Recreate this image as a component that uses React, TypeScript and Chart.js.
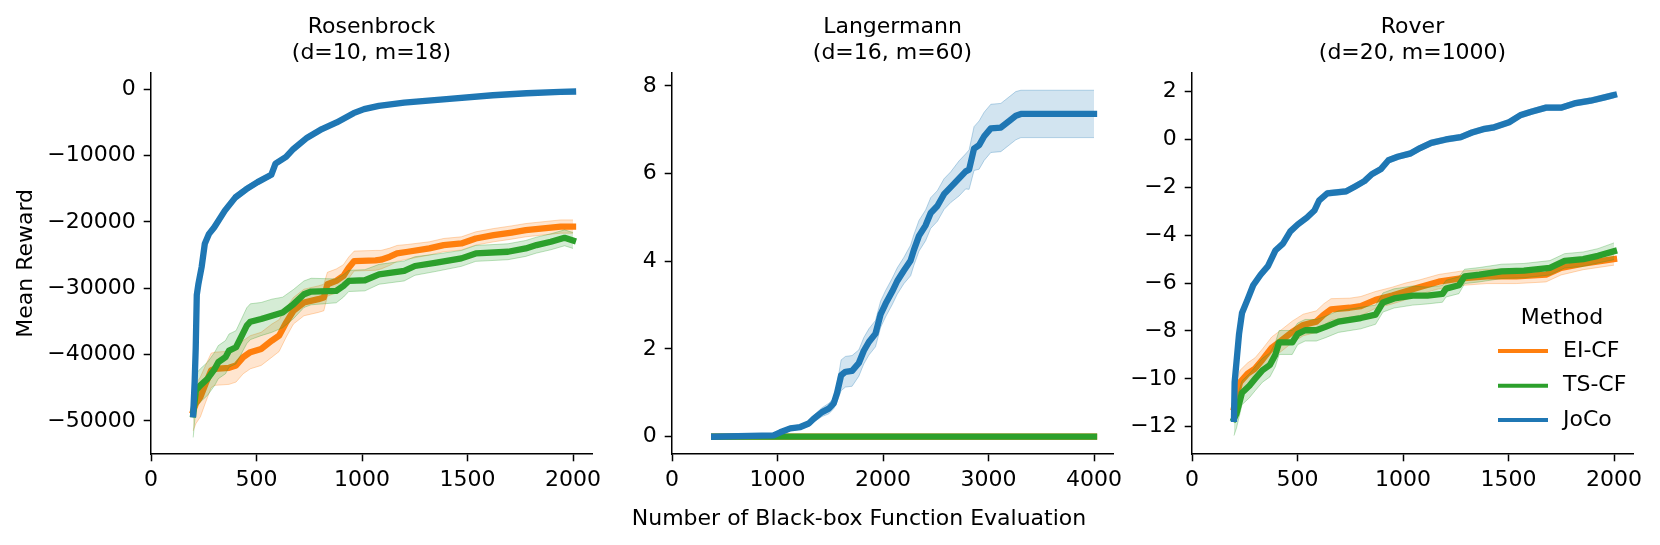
import React, { useEffect, useRef } from 'react';
import { Chart, registerables } from 'chart.js';

Chart.register(...registerables);

const FONT_FAMILY = 'DejaVu Sans';
const FONT_SIZE = 22;

// ---------- labels ----------
const METHODS = ['EI-CF', 'TS-CF', 'JoCo'];
const COLORS = ['#ff7f0e', '#2ca02c', '#1f77b4'];
const COLORS_RGB = ['255,127,14', '44,160,44', '31,119,180'];
const TITLES = [
  ['Rosenbrock', '(d=10, m=18)'],
  ['Langermann', '(d=16, m=60)'],
  ['Rover', '(d=20, m=1000)'],
];
const Y_LABEL = 'Mean Reward';
const X_LABEL = 'Number of Black-box Function Evaluation';
const LEGEND_TITLE = 'Method';

// ---------- axes ----------
const ROS_X_TICKS = [0, 500, 1000, 1500, 2000];
const ROS_Y_TICKS = [-50000, -40000, -30000, -20000, -10000, 0];
const ROS_X_RANGE = [0, 2090];
const ROS_Y_RANGE = [-55000, 2500];

const LAN_X_TICKS = [0, 1000, 2000, 3000, 4000];
const LAN_Y_TICKS = [0, 2, 4, 6, 8];
const LAN_X_RANGE = [0, 4180];
const LAN_Y_RANGE = [-0.395, 8.3];

const ROV_X_TICKS = [0, 500, 1000, 1500, 2000];
const ROV_Y_TICKS = [-12, -10, -8, -6, -4, -2, 0, 2];
const ROV_X_RANGE = [0, 2090];
const ROV_Y_RANGE = [-13.14, 2.79];

// ---------- Rosenbrock ----------
const ROS_EI_X = [200, 213, 234, 259, 285, 302, 370, 403, 437, 471, 522, 573, 607, 641, 675, 725, 793, 819, 836, 878, 912, 937, 963, 1064, 1090, 1132, 1166, 1217, 1319, 1387, 1471, 1539, 1624, 1709, 1776, 1895, 1942, 2000];
const ROS_EI_Y = [-48500, -47400, -46400, -44400, -42400, -42150, -42000, -41650, -40400, -39650, -39150, -37900, -37150, -35150, -33400, -32150, -31650, -31400, -29400, -28900, -28150, -26900, -25900, -25800, -25700, -25250, -24750, -24500, -24000, -23500, -23250, -22500, -22000, -21600, -21250, -20850, -20700, -20700];
const ROS_EI_HW = [3000, 3000, 3000, 2800, 2600, 2500, 2500, 2500, 2500, 2500, 2500, 2500, 2400, 2200, 2000, 2000, 2000, 2000, 1800, 1800, 1700, 1600, 1500, 1500, 1400, 1300, 1200, 1100, 1000, 1000, 1000, 1000, 1000, 1000, 1000, 1000, 1000, 1000];

const ROS_TS_X = [200, 213, 234, 268, 302, 319, 353, 370, 403, 454, 471, 522, 573, 624, 675, 725, 759, 878, 912, 937, 1014, 1081, 1200, 1251, 1353, 1471, 1539, 1692, 1776, 1827, 1895, 1960, 2000];
const ROS_TS_Y = [-49000, -45400, -44650, -43650, -42150, -41150, -40400, -39400, -38900, -35650, -35050, -34650, -34150, -33650, -32400, -30900, -30500, -30400, -29650, -28900, -28800, -27900, -27400, -26650, -26150, -25500, -24750, -24500, -24000, -23500, -23000, -22400, -22800];
const ROS_TS_HW = [3500, 2500, 2500, 2500, 2500, 2500, 2500, 2500, 2500, 2700, 2700, 2500, 2500, 2300, 2200, 2000, 2000, 1800, 1700, 1600, 1600, 1500, 1500, 1400, 1300, 1200, 1200, 1200, 1200, 1200, 1200, 1200, 1200];

const ROS_JOCO_X = [200, 207, 212, 217, 225, 240, 255, 275, 300, 350, 400, 450, 505, 570, 590, 640, 675, 740, 810, 880, 960, 1010, 1080, 1200, 1400, 1620, 1780, 1940, 2000];
const ROS_JOCO_Y = [-49000, -44000, -39000, -31000, -29300, -26800, -23300, -21800, -20800, -18300, -16300, -15100, -14000, -12900, -11200, -10200, -9000, -7300, -6000, -5000, -3600, -3000, -2500, -2000, -1500, -900, -600, -400, -350];
const ROS_JOCO_HW = [600, 600, 600, 600, 600, 600, 600, 500, 500, 500, 500, 500, 400, 400, 400, 400, 400, 400, 300, 300, 300, 300, 250, 200, 200, 200, 200, 200, 200];

// ---------- Langermann ----------
const LAN_EI_X = [400, 4000];
const LAN_EI_Y = [0, 0];
const LAN_EI_HW = [0, 0];

const LAN_TS_X = [400, 4000];
const LAN_TS_Y = [0, 0];
const LAN_TS_HW = [0, 0];

const LAN_JOCO_X = [400, 963, 1026, 1121, 1216, 1296, 1343, 1422, 1486, 1533, 1565, 1603, 1644, 1707, 1771, 1818, 1866, 1929, 1977, 2024, 2087, 2135, 2198, 2262, 2293, 2341, 2404, 2452, 2515, 2578, 2642, 2721, 2784, 2816, 2863, 2911, 2959, 3022, 3117, 3196, 3259, 3307, 4000];
const LAN_JOCO_Y = [0, 0.03, 0.1, 0.19, 0.22, 0.3, 0.41, 0.56, 0.64, 0.76, 1.0, 1.4, 1.48, 1.5, 1.68, 1.96, 2.16, 2.35, 2.79, 3.03, 3.31, 3.55, 3.79, 4.02, 4.26, 4.58, 4.82, 5.1, 5.26, 5.53, 5.69, 5.89, 6.05, 6.09, 6.57, 6.65, 6.85, 7.03, 7.05, 7.2, 7.32, 7.36, 7.36];
const LAN_JOCO_HW = [0, 0.02, 0.04, 0.05, 0.05, 0.06, 0.08, 0.1, 0.12, 0.12, 0.2, 0.35, 0.35, 0.35, 0.3, 0.3, 0.3, 0.3, 0.3, 0.3, 0.3, 0.3, 0.3, 0.35, 0.35, 0.35, 0.35, 0.35, 0.35, 0.35, 0.35, 0.4, 0.4, 0.45, 0.5, 0.55, 0.55, 0.55, 0.55, 0.55, 0.55, 0.54, 0.54];

// ---------- Rover ----------
const ROV_EI_X = [199, 211, 228, 264, 299, 334, 378, 422, 475, 527, 589, 624, 659, 747, 800, 870, 949, 1011, 1081, 1169, 1274, 1397, 1538, 1678, 1749, 1854, 2000];
const ROV_EI_Y = [-11.2, -10.7, -10.14, -9.78, -9.57, -9.2, -8.7, -8.41, -8.04, -7.75, -7.61, -7.32, -7.1, -7.03, -6.96, -6.7, -6.52, -6.35, -6.16, -5.94, -5.8, -5.72, -5.72, -5.65, -5.36, -5.19, -5.0];
const ROV_EI_HW = [0.6, 0.6, 0.5, 0.45, 0.45, 0.45, 0.45, 0.45, 0.45, 0.45, 0.45, 0.45, 0.45, 0.4, 0.4, 0.35, 0.35, 0.35, 0.3, 0.3, 0.3, 0.3, 0.3, 0.3, 0.3, 0.25, 0.25];

const ROV_TS_X = [199, 211, 237, 272, 299, 334, 369, 395, 413, 475, 501, 536, 589, 633, 694, 800, 870, 905, 958, 1046, 1116, 1187, 1204, 1265, 1292, 1362, 1467, 1573, 1696, 1766, 1854, 1924, 2000];
const ROV_TS_Y = [-11.67, -11.45, -10.58, -10.29, -10.0, -9.64, -9.42, -8.99, -8.48, -8.48, -8.12, -7.97, -7.97, -7.83, -7.61, -7.46, -7.32, -6.81, -6.64, -6.52, -6.52, -6.45, -6.23, -6.09, -5.72, -5.65, -5.51, -5.48, -5.36, -5.07, -5.0, -4.86, -4.67];
const ROV_TS_HW = [0.7, 0.6, 0.5, 0.5, 0.5, 0.5, 0.5, 0.5, 0.5, 0.5, 0.45, 0.45, 0.45, 0.45, 0.45, 0.45, 0.4, 0.4, 0.4, 0.4, 0.35, 0.35, 0.35, 0.35, 0.3, 0.3, 0.3, 0.3, 0.3, 0.3, 0.3, 0.3, 0.35];

const ROV_JOCO_X = [199, 202, 211, 223, 237, 264, 290, 325, 360, 395, 431, 466, 501, 545, 580, 603, 641, 729, 773, 817, 852, 896, 931, 975, 1037, 1081, 1134, 1204, 1274, 1327, 1380, 1432, 1503, 1555, 1608, 1678, 1749, 1819, 1889, 1960, 2000];
const ROV_JOCO_Y = [-11.67, -10.14, -9.28, -8.12, -7.25, -6.67, -6.09, -5.65, -5.29, -4.64, -4.35, -3.84, -3.55, -3.26, -2.97, -2.54, -2.25, -2.17, -1.96, -1.74, -1.45, -1.23, -0.87, -0.72, -0.58, -0.36, -0.14, 0.0, 0.1, 0.29, 0.43, 0.51, 0.72, 1.01, 1.16, 1.33, 1.33, 1.52, 1.62, 1.77, 1.86];
const ROV_JOCO_HW = [0.15, 0.15, 0.15, 0.15, 0.15, 0.12, 0.12, 0.12, 0.12, 0.12, 0.12, 0.12, 0.12, 0.12, 0.12, 0.12, 0.12, 0.12, 0.12, 0.12, 0.12, 0.12, 0.12, 0.12, 0.12, 0.12, 0.12, 0.12, 0.12, 0.12, 0.12, 0.12, 0.12, 0.12, 0.12, 0.12, 0.12, 0.12, 0.12, 0.12, 0.12];

// ---------- layout (figure pixel coordinates) ----------
const FIG_W = 1660;
const FIG_H = 545;
const PLOT_LEFTS = [151, 672, 1192];
const PLOT_W = 441;
const PLOT_BOTTOM = 454;
const AXIS_W = 140;
const RIGHT_PAD = 25;

type Series = { x: number[]; y: number[]; hw: number[] };

const PANELS = [
  {
    title: TITLES[0], xTicks: ROS_X_TICKS, yTicks: ROS_Y_TICKS, xRange: ROS_X_RANGE, yRange: ROS_Y_RANGE,
    series: [
      { x: ROS_EI_X, y: ROS_EI_Y, hw: ROS_EI_HW },
      { x: ROS_TS_X, y: ROS_TS_Y, hw: ROS_TS_HW },
      { x: ROS_JOCO_X, y: ROS_JOCO_Y, hw: ROS_JOCO_HW },
    ] as Series[],
    yLabel: true, legend: false,
  },
  {
    title: TITLES[1], xTicks: LAN_X_TICKS, yTicks: LAN_Y_TICKS, xRange: LAN_X_RANGE, yRange: LAN_Y_RANGE,
    series: [
      { x: LAN_EI_X, y: LAN_EI_Y, hw: LAN_EI_HW },
      { x: LAN_TS_X, y: LAN_TS_Y, hw: LAN_TS_HW },
      { x: LAN_JOCO_X, y: LAN_JOCO_Y, hw: LAN_JOCO_HW },
    ] as Series[],
    yLabel: false, legend: false,
  },
  {
    title: TITLES[2], xTicks: ROV_X_TICKS, yTicks: ROV_Y_TICKS, xRange: ROV_X_RANGE, yRange: ROV_Y_RANGE,
    series: [
      { x: ROV_EI_X, y: ROV_EI_Y, hw: ROV_EI_HW },
      { x: ROV_TS_X, y: ROV_TS_Y, hw: ROV_TS_HW },
      { x: ROV_JOCO_X, y: ROV_JOCO_Y, hw: ROV_JOCO_HW },
    ] as Series[],
    yLabel: false, legend: true,
  },
];

const fmt = (v: number) => (v < 0 ? '\u2212' + String(Math.abs(v)) : String(v));

function buildDatasets(series: Series[]) {
  const out: any[] = [];
  series.forEach((s, k) => {
    const rgb = COLORS_RGB[k];
    const baseOrder = (series.length - 1 - k) * 2;
    const lower = s.x.map((x, i) => ({ x, y: s.y[i] - s.hw[i] }));
    const upper = s.x.map((x, i) => ({ x, y: s.y[i] + s.hw[i] }));
    const line = s.x.map((x, i) => ({ x, y: s.y[i] }));
    out.push({
      label: METHODS[k] + ' lower', data: lower, borderColor: `rgba(${rgb},0.3)`, borderWidth: 1,
      pointRadius: 0, fill: false, order: baseOrder + 1,
    });
    out.push({
      label: METHODS[k] + ' upper', data: upper, borderColor: `rgba(${rgb},0.3)`, borderWidth: 1,
      backgroundColor: `rgba(${rgb},0.2)`, pointRadius: 0, fill: '-1', order: baseOrder + 1,
    });
    out.push({
      label: METHODS[k], data: line, borderColor: COLORS[k], borderWidth: 6.3, pointRadius: 0,
      fill: false, borderCapStyle: 'square', borderJoinStyle: 'round', order: baseOrder,
    });
  });
  return out;
}

function Panel({ idx }: { idx: number }) {
  const ref = useRef<HTMLCanvasElement | null>(null);
  const p = PANELS[idx];
  const canvasLeft = PLOT_LEFTS[idx] - AXIS_W;
  const canvasW = AXIS_W + PLOT_W + RIGHT_PAD;

  useEffect(() => {
    if (!ref.current) return;
    const font = { family: FONT_FAMILY, size: FONT_SIZE, lineHeight: 1.2 };
    const gridOpts = {
      display: true, drawOnChartArea: false, drawTicks: true, tickLength: 7.3,
      tickWidth: 1.5, tickColor: '#000', color: '#000',
    };
    const legendPlugin = {
      id: 'methodLegend',
      afterDraw(chart: any) {
        if (!p.legend) return;
        const ctx = chart.ctx;
        ctx.save();
        ctx.font = `${FONT_SIZE}px "${FONT_FAMILY}"`;
        ctx.fillStyle = '#000';
        ctx.textBaseline = 'middle';
        ctx.textAlign = 'center';
        ctx.fillText(LEGEND_TITLE, 1562 - canvasLeft, 318);
        const rows = [351, 385.7, 420];
        METHODS.forEach((m, k) => {
          ctx.strokeStyle = COLORS[k];
          ctx.lineWidth = 4;
          ctx.lineCap = 'butt';
          ctx.beginPath();
          ctx.moveTo(1498 - canvasLeft, rows[k]);
          ctx.lineTo(1548 - canvasLeft, rows[k]);
          ctx.stroke();
          ctx.textAlign = 'left';
          ctx.fillText(m, 1563 - canvasLeft, rows[k]);
        });
        ctx.restore();
      },
    };
    const chart = new Chart(ref.current, {
      type: 'line',
      data: { datasets: buildDatasets(p.series) },
      plugins: [legendPlugin],
      options: {
        animation: false,
        responsive: false,
        layout: { padding: { left: 0, right: RIGHT_PAD, top: 0, bottom: 0 } },
        elements: { point: { radius: 0 }, line: { tension: 0 } },
        plugins: {
          legend: { display: false },
          tooltip: { enabled: false },
          title: {
            display: true, text: p.title, color: '#000', fullSize: false,
            font: { family: FONT_FAMILY, size: FONT_SIZE, weight: 'normal', lineHeight: 1.2 },
            padding: { top: 13.8, bottom: 6.1 },
          },
        },
        scales: {
          x: {
            type: 'linear', min: p.xRange[0], max: p.xRange[1],
            afterFit: (s: any) => { s.height = FIG_H - PLOT_BOTTOM; },
            afterBuildTicks: (s: any) => { s.ticks = p.xTicks.map((v) => ({ value: v })); },
            ticks: { font, color: '#000', padding: 6, maxRotation: 0, autoSkip: false, callback: (v: any) => fmt(Number(v)) },
            grid: gridOpts,
            border: { display: true, color: '#000', width: 1.5 },
          },
          y: {
            type: 'linear', min: p.yRange[0], max: p.yRange[1],
            afterFit: (s: any) => { s.width = AXIS_W; },
            afterBuildTicks: (s: any) => { s.ticks = p.yTicks.map((v) => ({ value: v })); },
            ticks: { font, color: '#000', padding: 8, autoSkip: false, callback: (v: any) => fmt(Number(v)) },
            grid: gridOpts,
            border: { display: true, color: '#000', width: 1.5 },
            title: {
              display: p.yLabel, text: Y_LABEL, color: '#000', font,
              padding: { top: 2.5, bottom: 0 },
            },
          },
        },
      } as any,
    });
    return () => chart.destroy();
  }, [idx]);

  return (
    <canvas
      ref={ref}
      width={canvasW}
      height={FIG_H}
      style={{ position: 'absolute', left: canvasLeft, top: 0, width: canvasW, height: FIG_H }}
    />
  );
}

export default function App() {
  useEffect(() => {
    Chart.defaults.font.family = FONT_FAMILY;
    document.body.style.margin = '0';
  }, []);
  return (
    <div
      style={{
        position: 'fixed', left: 0, top: 0, width: FIG_W, height: FIG_H,
        background: '#fff', overflow: 'hidden',
      }}
    >
      {PANELS.map((_, i) => (
        <Panel key={i} idx={i} />
      ))}
      <div
        style={{
          position: 'absolute', left: 559, width: 600, top: 505, height: 26,
          textAlign: 'center', fontFamily: FONT_FAMILY, fontSize: FONT_SIZE,
          lineHeight: '26px', color: '#000', whiteSpace: 'nowrap',
        }}
      >
        {X_LABEL}
      </div>
    </div>
  );
}
